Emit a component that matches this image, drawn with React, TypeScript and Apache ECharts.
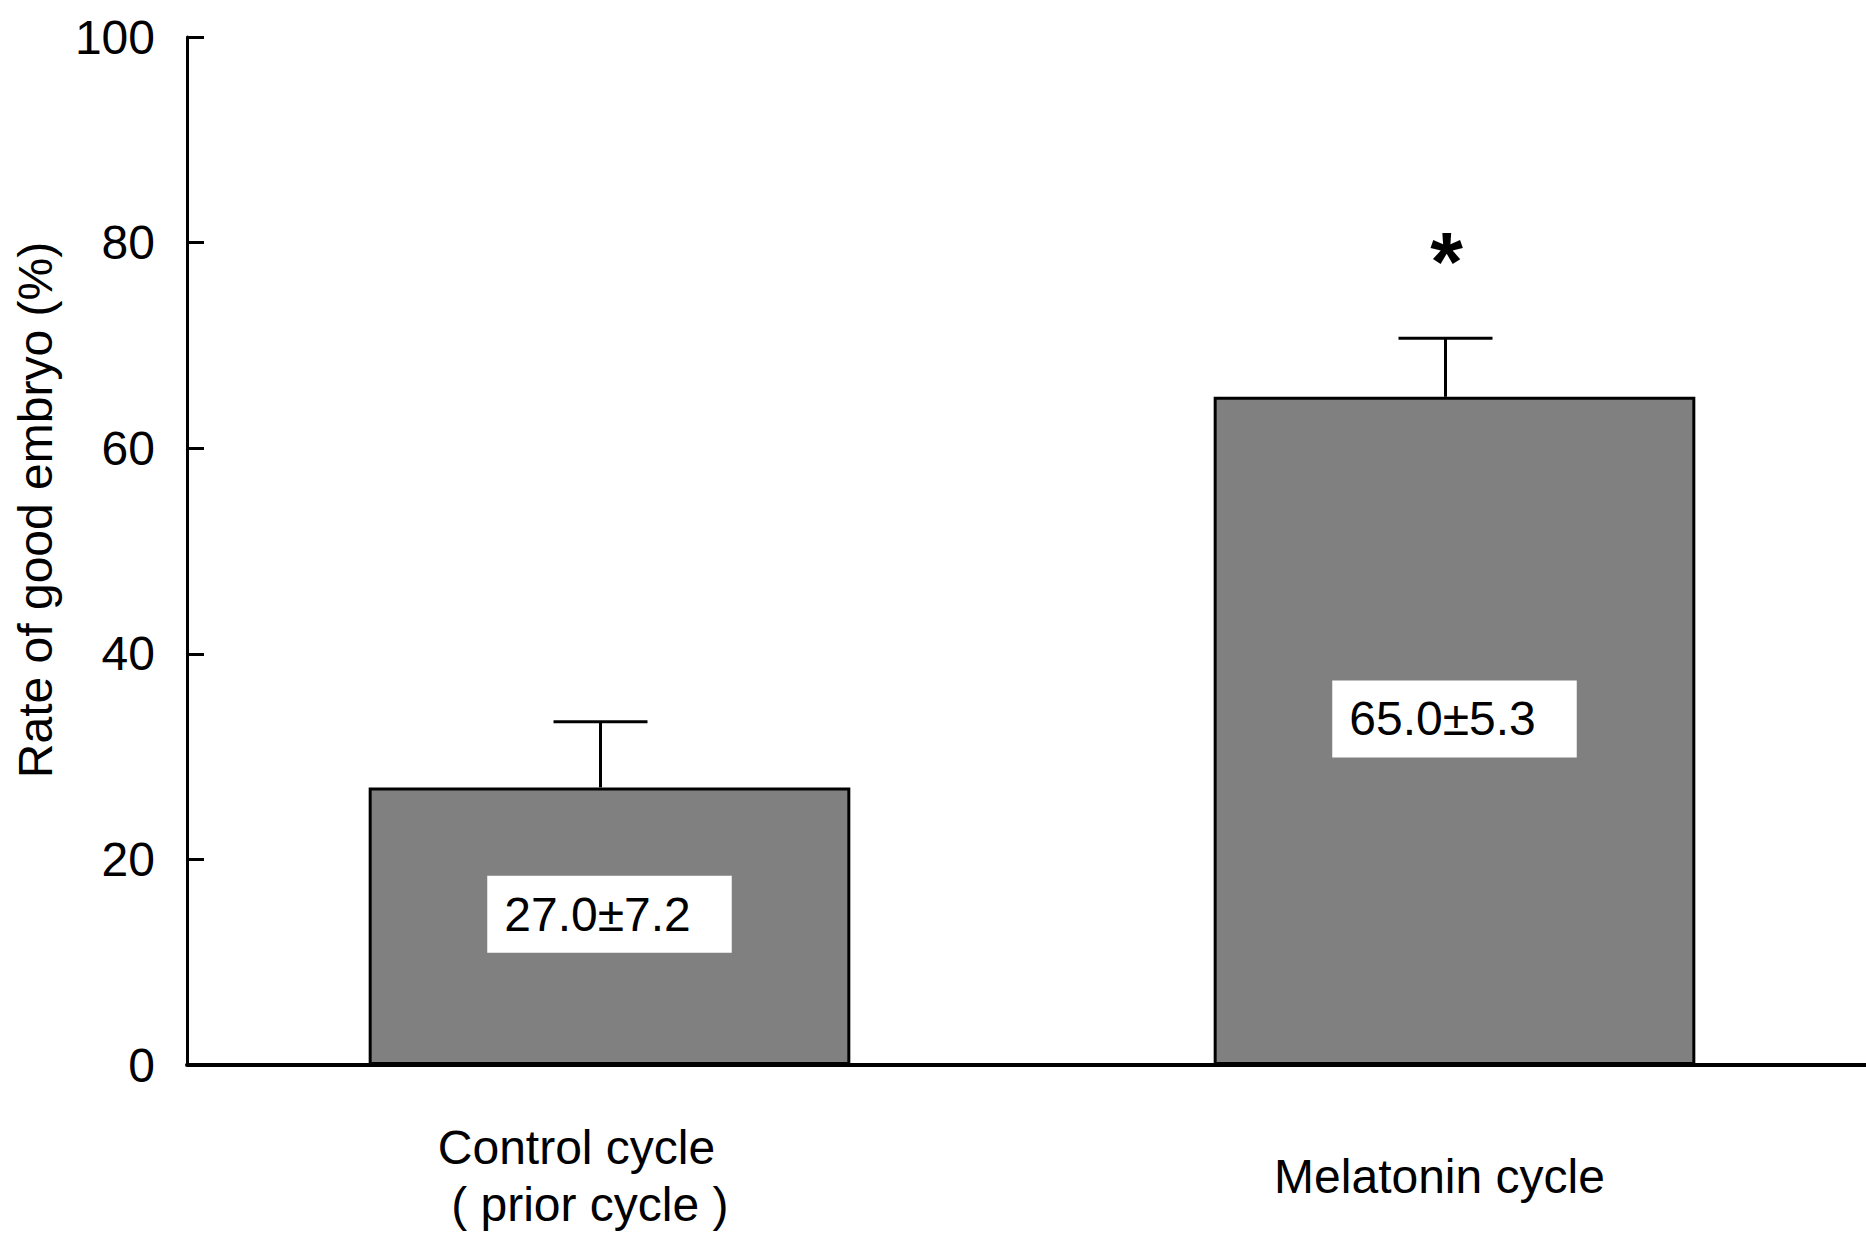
import React, { useEffect, useRef } from "react";
import * as echarts from "echarts";

const categories = ["Control cycle\n  ( prior cycle )", "Melatonin cycle"];
const means = [27.0, 65.0];
const sds = [7.2, 5.3];
const errorTops = [33.4, 70.7];
const sigMarks = ["", "*"];
const yTitle = "Rate of good embryo (%)";
const yMin = 0;
const yMax = 100;
const yInterval = 20;

const FONT = "'Liberation Sans', Arial, Helvetica, sans-serif";
const catPadRight = [66, 30];

export default function App() {
  const ref = useRef<HTMLDivElement>(null);
  useEffect(() => {
    document.body.style.margin = "0";
    if (!ref.current) return;
    const chart = echarts.init(ref.current, undefined, { renderer: "svg" });
    const option: any = {
      animation: false,
      backgroundColor: "#ffffff",
      textStyle: { fontFamily: FONT, color: "#000" },
      grid: {
        left: 187,
        top: 37,
        bottom: 173,
        right: -11,
        containLabel: false,
        outerBoundsMode: "none",
      },
      xAxis: {
        type: "category",
        data: categories.map((c, i) => ({
          value: c,
          textStyle: {
            padding: [0, catPadRight[i], 0, 0],
            verticalAlign: "middle",
            lineHeight: 57,
          },
        })),
        axisLine: { lineStyle: { color: "#000", width: 4 } },
        axisTick: { show: false },
        axisLabel: {
          fontFamily: FONT,
          fontSize: 48,
          color: "#000",
          lineHeight: 57,
          margin: 111,
          verticalAlign: "middle",
          interval: 0,
          hideOverlap: false,
        },
        splitLine: { show: false },
      },
      yAxis: {
        type: "value",
        min: yMin,
        max: yMax,
        interval: yInterval,
        axisLine: { show: true, lineStyle: { color: "#000", width: 3 } },
        axisTick: { show: true, inside: true, length: 17, lineStyle: { color: "#000", width: 3 } },
        axisLabel: { fontFamily: FONT, fontSize: 48, color: "#000", margin: 32 },
        splitLine: { show: false },
      },
      graphic: [
        {
          type: "text",
          x: 35,
          y: 510,
          rotation: Math.PI / 2,
          style: {
            text: yTitle,
            fontFamily: FONT,
            fontSize: 48,
            fill: "#000",
            align: "center",
            verticalAlign: "middle",
          },
        },
      ],
      series: [
        {
          type: "bar",
          data: means,
          barWidth: "57%",
          itemStyle: { color: "#808080", borderColor: "#000", borderWidth: 3 },
          label: {
            show: true,
            position: "inside",
            offset: [0, -12],
            formatter: (p: any) =>
              `${means[p.dataIndex].toFixed(1)}±${sds[p.dataIndex].toFixed(1)}`,
            fontFamily: FONT,
            fontSize: 48,
            lineHeight: 48,
            color: "#000",
            backgroundColor: "#ffffff",
            padding: [15, 41, 14, 17],
          },
          z: 2,
        },
        {
          type: "custom",
          data: means.map((m, i) => [i, m, errorTops[i]]),
          encode: { x: 0, y: [1, 2] },
          z: 3,
          renderItem: (params: any, api: any) => {
            const i = api.value(0);
            const top = api.coord([i, api.value(1)]);
            const hi = api.coord([i, api.value(2)]);
            const cx = top[0] - 9;
            const children: any[] = [
              {
                type: "line",
                shape: { x1: cx, y1: top[1], x2: cx, y2: hi[1] },
                style: { stroke: "#000", lineWidth: 3 },
              },
              {
                type: "line",
                shape: { x1: cx - 47, y1: hi[1], x2: cx + 47, y2: hi[1] },
                style: { stroke: "#000", lineWidth: 3 },
              },
            ];
            const mark = sigMarks[params.dataIndex];
            if (mark) {
              children.push({
                type: "text",
                x: cx + 1,
                y: hi[1] - 76,
                style: {
                  text: mark,
                  fontFamily: FONT,
                  fontSize: 84,
                  fontWeight: "bold",
                  fill: "#000",
                  align: "center",
                  verticalAlign: "middle",
                },
              });
            }
            return { type: "group", children };
          },
        },
      ],
    };
    chart.setOption(option);
    return () => chart.dispose();
  }, []);
  return <div ref={ref} style={{ width: 1866, height: 1238 }} />;
}
